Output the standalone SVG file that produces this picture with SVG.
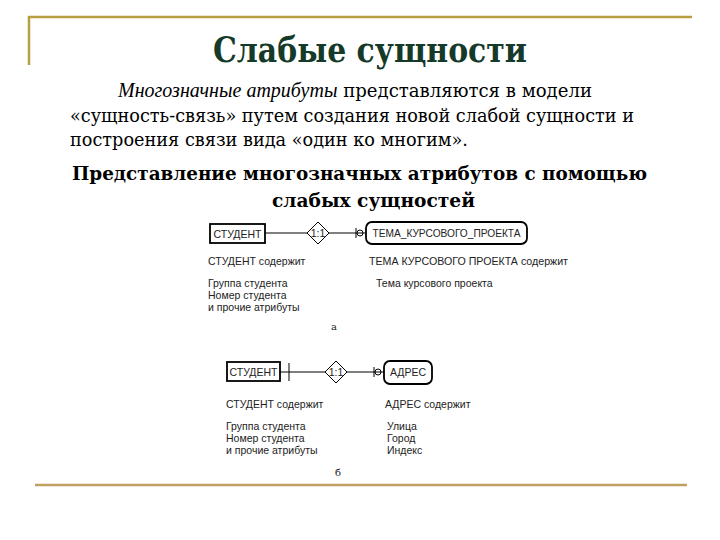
<svg xmlns="http://www.w3.org/2000/svg" width="720" height="540" viewBox="0 0 720 540">
<style>
.frame{stroke:#b8a040;stroke-width:2.5;fill:none}
.t{font-family:"Liberation Sans",Arial,sans-serif;font-size:10.5px;fill:#222}
.box{fill:#fff;stroke:#000;stroke-width:1.8}
.ln{stroke:#000;stroke-width:1;fill:none}
.dm{fill:#fff;stroke:#000;stroke-width:1}
</style>
<rect width="720" height="540" fill="#fff"/>
<g id="frame">
<path class="frame" d="M29 65V17H692"/>
<line x1="35" y1="485" x2="687" y2="485" stroke="#c0a060" stroke-width="2.5"/>
</g>
<g id="text" font-family="'DejaVu Serif', serif">
<text x="213" y="62" font-size="36" font-weight="bold" fill="#163a2a" textLength="314" lengthAdjust="spacingAndGlyphs">Слабые сущности</text>
<text x="118" y="97" font-size="19" textLength="474" lengthAdjust="spacingAndGlyphs"><tspan font-style="italic" font-family="'Liberation Serif', serif" font-size="21">Многозначные атрибуты</tspan> представляются в модели</text>
<text x="70" y="122" font-size="19" textLength="564" lengthAdjust="spacingAndGlyphs">«сущность-связь» путем создания новой слабой сущности и</text>
<text x="70" y="146" font-size="19" textLength="398" lengthAdjust="spacingAndGlyphs">построения связи вида «один ко многим».</text>
<text x="72" y="180" font-size="19" font-weight="bold" textLength="575" lengthAdjust="spacingAndGlyphs">Представление многозначных атрибутов с помощью</text>
<text x="272" y="207" font-size="19" font-weight="bold" textLength="203" lengthAdjust="spacingAndGlyphs">слабых сущностей</text>
</g>
<g id="connectors">
<line class="ln" x1="265" y1="233" x2="308" y2="233"/>
<line class="ln" x1="328" y1="233" x2="366" y2="233"/>
<circle class="ln" cx="360" cy="233" r="3"/>
<line class="ln" x1="356" y1="228" x2="356" y2="238"/>
<line class="ln" x1="280" y1="372" x2="326" y2="372"/>
<line class="ln" x1="289" y1="363" x2="289" y2="381"/>
<line class="ln" x1="346" y1="372" x2="384" y2="372"/>
<circle class="ln" cx="378" cy="372" r="3"/>
<line class="ln" x1="374" y1="367" x2="374" y2="377"/>
</g>
<g id="student-a">
<rect class="box" x="210" y="224" width="55" height="19"/>
<text class="t" x="237.5" y="237.5" text-anchor="middle">СТУДЕНТ</text>
</g>
<g id="rel-a">
<path class="dm" d="M318 222L329 233L318 244L307 233Z"/>
<text class="t" x="318" y="236.5" text-anchor="middle" font-size="8.5">1:1</text>
</g>
<g id="tema">
<rect class="box" x="366" y="222" width="161" height="22" rx="6" stroke-width="2"/>
<text class="t" x="446.5" y="237" text-anchor="middle" textLength="148" lengthAdjust="spacingAndGlyphs">ТЕМА_КУРСОВОГО_ПРОЕКТА</text>
</g>
<g id="labels-a">
<text class="t" x="208" y="265">СТУДЕНТ содержит</text>
<text class="t" x="208" y="287">Группа студента</text>
<text class="t" x="208" y="299">Номер студента</text>
<text class="t" x="208" y="311">и прочие атрибуты</text>
<text class="t" x="369" y="265" textLength="199" lengthAdjust="spacingAndGlyphs">ТЕМА КУРСОВОГО ПРОЕКТА содержит</text>
<text class="t" x="376" y="287">Тема курсового проекта</text>
<text x="331" y="330" font-family="'DejaVu Serif', serif" font-size="10" fill="#222">а</text>
</g>
<g id="student-b">
<rect class="box" x="227" y="362" width="53" height="19"/>
<text class="t" x="253.5" y="375.5" text-anchor="middle">СТУДЕНТ</text>
</g>
<g id="rel-b">
<path class="dm" d="M336 361L347 372L336 383L325 372Z"/>
<text class="t" x="336" y="375.5" text-anchor="middle" font-size="8.5">1:1</text>
</g>
<g id="adres">
<rect class="box" x="384" y="361" width="48" height="23" rx="6" stroke-width="2"/>
<text class="t" x="408" y="376" text-anchor="middle">АДРЕС</text>
</g>
<g id="labels-b">
<text class="t" x="226" y="408">СТУДЕНТ содержит</text>
<text class="t" x="226" y="430">Группа студента</text>
<text class="t" x="226" y="442">Номер студента</text>
<text class="t" x="226" y="454">и прочие атрибуты</text>
<text class="t" x="385" y="408">АДРЕС содержит</text>
<text class="t" x="387" y="430">Улица</text>
<text class="t" x="387" y="442">Город</text>
<text class="t" x="387" y="454">Индекс</text>
<text x="335" y="476" font-family="'DejaVu Serif', serif" font-size="10" fill="#222">б</text>
</g>
</svg>
